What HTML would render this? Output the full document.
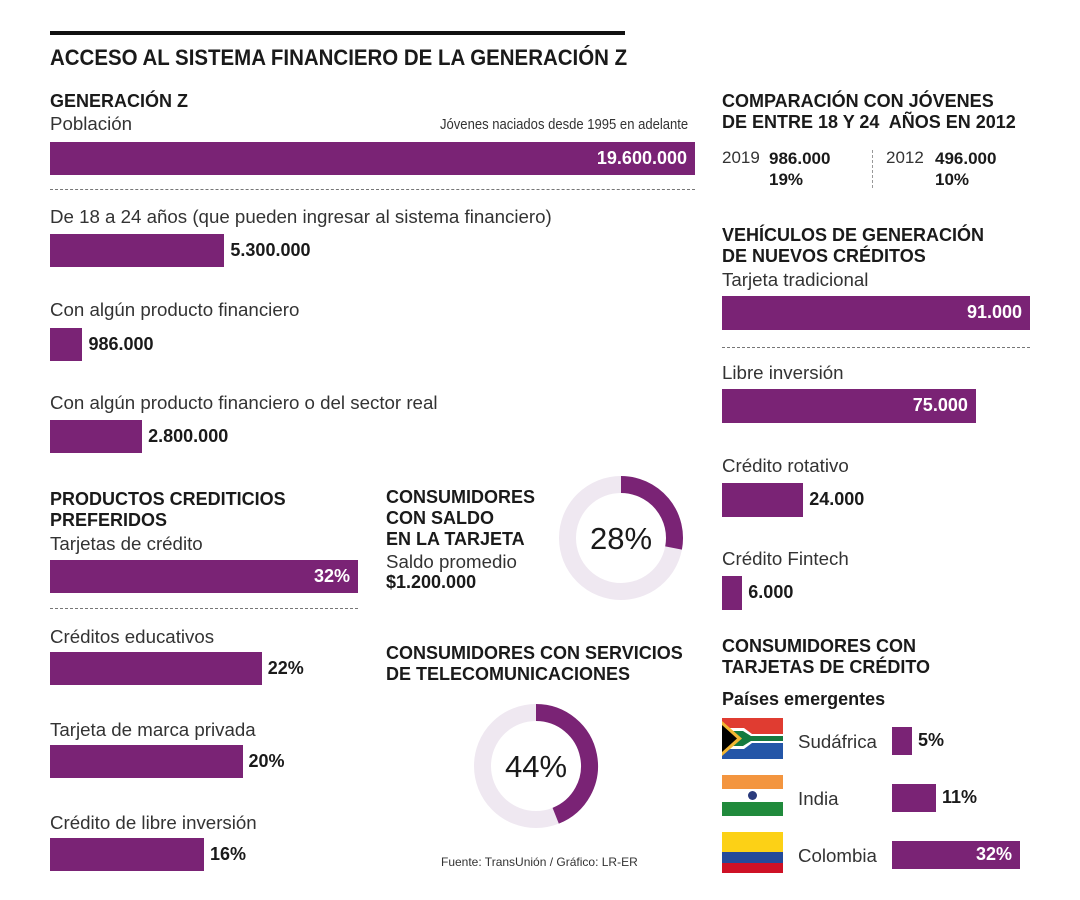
<!DOCTYPE html>
<html><head><meta charset="utf-8">
<style>
body{margin:0;background:#fff;}
#c{position:relative;width:1080px;height:900px;overflow:hidden;font-family:"Liberation Sans",sans-serif;color:#1a1a1a;}
.t{position:absolute;white-space:nowrap;}
.h{font-weight:bold;font-size:18px;line-height:21px;}
.l{font-size:18.7px;color:#333;}
.bar{position:absolute;background:#7a2375;}
.v{position:absolute;font-weight:bold;font-size:18px;white-space:nowrap;}
.dash{position:absolute;border-top:1.5px dashed #777;height:0;}
</style></head><body>
<div id="c">
<div style="position:absolute;left:50px;top:31px;width:575px;height:4px;background:#111"></div>
<div class="t" style="left:50px;top:45px;font-size:22px;font-weight:bold;transform:scaleX(0.93);transform-origin:left top">ACCESO AL SISTEMA FINANCIERO DE LA GENERACIÓN Z</div>

<div class="t h" style="left:50px;top:91px">GENERACIÓN Z</div>
<div class="t l" style="left:50px;top:113px">Población</div>
<div class="t" style="left:440px;top:116px;font-size:15px;color:#333;transform:scaleX(0.87);transform-origin:left top">Jóvenes naciados desde 1995 en adelante</div>
<div class="dash" style="left:50px;top:189px;width:645px"></div>
<div class="t l" style="left:50px;top:206px">De 18 a 24 años (que pueden ingresar al sistema financiero)</div>
<div class="t l" style="left:50px;top:299px">Con algún producto financiero</div>
<div class="t l" style="left:50px;top:392px">Con algún producto financiero o del sector real</div>

<div class="t h" style="left:50px;top:489px">PRODUCTOS CREDITICIOS<br>PREFERIDOS</div>
<div class="t l" style="left:50px;top:533px">Tarjetas de crédito</div>
<div class="dash" style="left:50px;top:608px;width:308px"></div>
<div class="t l" style="left:50px;top:626px">Créditos educativos</div>
<div class="t l" style="left:50px;top:719px">Tarjeta de marca privada</div>
<div class="t l" style="left:50px;top:812px">Crédito de libre inversión</div>

<div class="t h" style="left:386px;top:487px">CONSUMIDORES<br>CON SALDO<br>EN LA TARJETA</div>
<div class="t l" style="left:386px;top:551px">Saldo promedio</div>
<div class="t" style="left:386px;top:572px;font-weight:bold;font-size:18px">$1.200.000</div>
<div class="t h" style="left:386px;top:643px">CONSUMIDORES CON SERVICIOS<br>DE TELECOMUNICACIONES</div>
<div class="t" style="left:441px;top:855px;font-size:12px;color:#333">Fuente: TransUnión / Gráfico: LR-ER</div>

<svg id="donuts" style="position:absolute;left:0;top:0" width="1080" height="900"></svg>

<div class="t h" style="left:722px;top:91px">COMPARACIÓN CON JÓVENES<br>DE ENTRE 18 Y 24&nbsp; AÑOS EN 2012</div>
<div class="t l" style="left:722px;top:148px;font-size:17px">2019</div>
<div class="t" style="left:769px;top:148px;font-weight:bold;font-size:17px;line-height:21px">986.000<br>19%</div>
<div class="dash" style="left:872px;top:150px;width:0;height:38px;border-top:none;border-left:1.5px dashed #999"></div>
<div class="t l" style="left:886px;top:148px;font-size:17px">2012</div>
<div class="t" style="left:935px;top:148px;font-weight:bold;font-size:17px;line-height:21px">496.000<br>10%</div>

<div class="t h" style="left:722px;top:225px">VEHÍCULOS DE GENERACIÓN<br>DE NUEVOS CRÉDITOS</div>
<div class="t l" style="left:722px;top:269px">Tarjeta tradicional</div>
<div class="dash" style="left:722px;top:347px;width:308px"></div>
<div class="t l" style="left:722px;top:362px">Libre inversión</div>
<div class="t l" style="left:722px;top:455px">Crédito rotativo</div>
<div class="t l" style="left:722px;top:548px">Crédito Fintech</div>

<div class="t h" style="left:722px;top:636px">CONSUMIDORES CON<br>TARJETAS DE CRÉDITO</div>
<div class="t" style="left:722px;top:689px;font-weight:bold;font-size:18px">Países emergentes</div>
<div class="t l" style="left:798px;top:731px">Sudáfrica</div>
<div class="t l" style="left:798px;top:788px">India</div>
<div class="t l" style="left:798px;top:845px">Colombia</div>
<svg style="position:absolute;left:722px;top:718px" width="61" height="41">
<rect width="61" height="20" fill="#e03c31"/><rect y="20" width="61" height="21" fill="#2456a8"/>
<polygon points="0,10 22,10 30,16 61,16 61,25 30,25 22,31 0,31" fill="#fff"/>
<polygon points="0,13 21,13 29,18 61,18 61,23 29,23 21,28 0,28" fill="#157a3f"/>
<polygon points="0,3 20,20.5 0,38" fill="#f2b632"/><polygon points="0,7 15,20.5 0,34" fill="#000"/>
</svg>
<svg style="position:absolute;left:722px;top:775px" width="61" height="41">
<rect width="61" height="14" fill="#f3953f"/><rect y="14" width="61" height="13" fill="#fff"/><rect y="27" width="61" height="14" fill="#208a3c"/>
<circle cx="30.5" cy="20.5" r="4.5" fill="#2a3a7c"/>
</svg>
<svg style="position:absolute;left:722px;top:832px" width="61" height="41">
<rect width="61" height="20" fill="#fcd116"/><rect y="20" width="61" height="11" fill="#244a9a"/><rect y="31" width="61" height="10" fill="#ce1126"/>
</svg>
</div>
<script>
// Main population bars
const popLabels = ["19.600.000","5.300.000","986.000","2.800.000"];
const popValues = [19600000,5300000,986000,2800000];
// Preferred products (%)
const prodLabels = ["32%","22%","20%","16%"];
const prodValues = [32,22,20,16];
// Credit vehicles
const vehLabels = ["91.000","75.000","24.000","6.000"];
const vehValues = [91000,75000,24000,6000];
// Countries (%)
const ctryLabels = ["5%","11%","32%"];
const ctryValues = [5,11,32];
// Donuts (%)
const donutValues = [28,44];
const donutLabels = ["28%","44%"];

const c = document.getElementById('c');
function group(vals, labels, x0, maxW, maxV, tops, h, name){
  const sx = v => v / maxV * maxW;
  vals.forEach((v,i)=>{
    const w = sx(v);
    const b = document.createElement('div');
    b.className='bar';
    
    
    b.style.cssText=`left:${x0}px;top:${tops[i]}px;width:${w}px;height:${h}px`;
    c.appendChild(b);
    const t = document.createElement('div');
    t.className='v';
    
    
    t.textContent = labels[i];
    const inside = w > maxW*0.8;
    t.style.top = (tops[i] + h/2 - 11) + 'px';
    if(inside){ t.style.color='#fff'; t.style.right=(1080-(x0+w)+8)+'px'; }
    else { t.style.left=(x0+w+6)+'px'; }
    c.appendChild(t);
  });
}
group(popValues, popLabels, 50, 645, 19600000, [142,234,328,420], 33, 'poblacion');
group(prodValues, prodLabels, 50, 308, 32, [560,652,745,838], 33, 'producto');
group(vehValues, vehLabels, 722, 308, 91000, [296,389,483,576], 34, 'vehiculo');
group(ctryValues, ctryLabels, 892, 128, 32, [727,784,841], 28, 'pais');

const svg = document.getElementById('donuts');
const NS='http://www.w3.org/2000/svg';
const centers=[[621,538],[536,766]];
donutValues.forEach((v,i)=>{
  const [cx,cy]=centers[i], R=53.5, sw=17;
  const bg=document.createElementNS(NS,'circle');
  
  
  bg.setAttribute('cx',cx);bg.setAttribute('cy',cy);bg.setAttribute('r',R);
  bg.setAttribute('fill','none');bg.setAttribute('stroke','#efe8f1');bg.setAttribute('stroke-width',sw);
  svg.appendChild(bg);
  const a=v/100*2*Math.PI;
  const x1=cx, y1=cy-R, x2=cx+R*Math.sin(a), y2=cy-R*Math.cos(a);
  const p=document.createElementNS(NS,'path');
  
  
  p.setAttribute('d',`M${x1},${y1} A${R},${R} 0 ${v>50?1:0} 1 ${x2},${y2}`);
  p.setAttribute('fill','none');p.setAttribute('stroke','#7a2375');p.setAttribute('stroke-width',sw);
  svg.appendChild(p);
  const t=document.createElementNS(NS,'text');
  
  
  t.setAttribute('x',cx);t.setAttribute('y',cy+11);t.setAttribute('text-anchor','middle');
  t.setAttribute('font-family','Liberation Sans, sans-serif');t.setAttribute('font-size','31');t.setAttribute('fill','#1a1a1a');
  t.textContent=donutLabels[i];
  svg.appendChild(t);
});
</script>
</body></html>
